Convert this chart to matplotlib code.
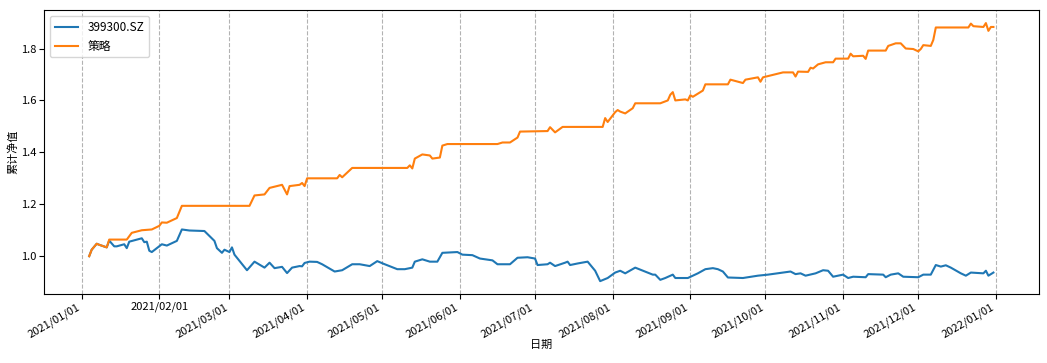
import pandas as pd
import matplotlib
matplotlib.use('Agg')
import matplotlib.pyplot as plt
import matplotlib.dates as mdates

plt.rcParams['font.family'] = ['Noto Sans CJK SC', 'DejaVu Sans']
plt.rcParams['axes.unicode_minus'] = False

# benchmark 399300.SZ
bench_dates = [
    '2021-01-04', '2021-01-05', '2021-01-07', '2021-01-08', '2021-01-11', '2021-01-12',
    '2021-01-14', '2021-01-15', '2021-01-18', '2021-01-19', '2021-01-20', '2021-01-25',
    '2021-01-26', '2021-01-27', '2021-01-28', '2021-01-29', '2021-02-02', '2021-02-04',
    '2021-02-08', '2021-02-10', '2021-02-13', '2021-02-19', '2021-02-23', '2021-02-24',
    '2021-02-26', '2021-02-27', '2021-03-01', '2021-03-02', '2021-03-03', '2021-03-08',
    '2021-03-11', '2021-03-15', '2021-03-17', '2021-03-19', '2021-03-22', '2021-03-24',
    '2021-03-26', '2021-03-29', '2021-03-30', '2021-03-31', '2021-04-02', '2021-04-05',
    '2021-04-07', '2021-04-12', '2021-04-15', '2021-04-19', '2021-04-22', '2021-04-26',
    '2021-04-29', '2021-05-02', '2021-05-07', '2021-05-10', '2021-05-13', '2021-05-14',
    '2021-05-17', '2021-05-20', '2021-05-23', '2021-05-25', '2021-05-31', '2021-06-02',
    '2021-06-06', '2021-06-09', '2021-06-14', '2021-06-16', '2021-06-21', '2021-06-24',
    '2021-06-28', '2021-07-01', '2021-07-02', '2021-07-06', '2021-07-07', '2021-07-09',
    '2021-07-13', '2021-07-14', '2021-07-15', '2021-07-18', '2021-07-22', '2021-07-25',
    '2021-07-27', '2021-07-30', '2021-08-02', '2021-08-04', '2021-08-06', '2021-08-10',
    '2021-08-15', '2021-08-17', '2021-08-18', '2021-08-20', '2021-08-22', '2021-08-25',
    '2021-08-26', '2021-08-31', '2021-09-02', '2021-09-04', '2021-09-07', '2021-09-10',
    '2021-09-12', '2021-09-14', '2021-09-16', '2021-09-22', '2021-09-28', '2021-10-02',
    '2021-10-11', '2021-10-13', '2021-10-15', '2021-10-17', '2021-10-21', '2021-10-24',
    '2021-10-26', '2021-10-28', '2021-11-01', '2021-11-03', '2021-11-05', '2021-11-10',
    '2021-11-11', '2021-11-17', '2021-11-18', '2021-11-20', '2021-11-23', '2021-11-25',
    '2021-12-01', '2021-12-03', '2021-12-06', '2021-12-08', '2021-12-10', '2021-12-12',
    '2021-12-14', '2021-12-18', '2021-12-20', '2021-12-22', '2021-12-27', '2021-12-28',
    '2021-12-29', '2021-12-31',
]
bench_vals = [
    1.000, 1.025, 1.048, 1.044, 1.034, 1.060,
    1.038, 1.038, 1.046, 1.031, 1.056, 1.069,
    1.054, 1.056, 1.021, 1.016, 1.046, 1.041,
    1.059, 1.103, 1.099, 1.097, 1.059, 1.031,
    1.013, 1.025, 1.016, 1.034, 1.006, 0.946,
    0.979, 0.956, 0.975, 0.954, 0.959, 0.935,
    0.956, 0.962, 0.961, 0.974, 0.979, 0.978,
    0.969, 0.941, 0.946, 0.969, 0.969, 0.962,
    0.981, 0.969, 0.950, 0.950, 0.956, 0.979,
    0.988, 0.979, 0.979, 1.013, 1.016, 1.006,
    1.004, 0.991, 0.984, 0.969, 0.969, 0.994,
    0.996, 0.991, 0.966, 0.969, 0.975, 0.962,
    0.975, 0.979, 0.966, 0.972, 0.979, 0.944,
    0.904, 0.916, 0.937, 0.944, 0.934, 0.956,
    0.937, 0.929, 0.929, 0.909, 0.916, 0.929,
    0.916, 0.916, 0.925, 0.934, 0.950, 0.954,
    0.950, 0.941, 0.918, 0.916, 0.925, 0.929,
    0.941, 0.931, 0.934, 0.925, 0.934, 0.946,
    0.944, 0.921, 0.929, 0.916, 0.921, 0.919,
    0.931, 0.929, 0.919, 0.929, 0.934, 0.921,
    0.919, 0.929, 0.929, 0.966, 0.960, 0.965,
    0.956, 0.934, 0.925, 0.937, 0.934, 0.944,
    0.925, 0.937,
]

# strategy
strat_dates = [
    '2021-01-04', '2021-01-05', '2021-01-07', '2021-01-08', '2021-01-11', '2021-01-12',
    '2021-01-19', '2021-01-21', '2021-01-25', '2021-01-29', '2021-02-01', '2021-02-02',
    '2021-02-04', '2021-02-08', '2021-02-10', '2021-03-09', '2021-03-11', '2021-03-15',
    '2021-03-17', '2021-03-22', '2021-03-24', '2021-03-25', '2021-03-29', '2021-03-30',
    '2021-03-31', '2021-04-01', '2021-04-13', '2021-04-14', '2021-04-15', '2021-04-19',
    '2021-05-11', '2021-05-12', '2021-05-13', '2021-05-14', '2021-05-17', '2021-05-20',
    '2021-05-21', '2021-05-24', '2021-05-25', '2021-05-27', '2021-06-16', '2021-06-18',
    '2021-06-21', '2021-06-24', '2021-06-25', '2021-07-06', '2021-07-07', '2021-07-09',
    '2021-07-12', '2021-07-28', '2021-07-29', '2021-07-30', '2021-08-02', '2021-08-03',
    '2021-08-04', '2021-08-06', '2021-08-09', '2021-08-10', '2021-08-20', '2021-08-23',
    '2021-08-24', '2021-08-25', '2021-08-26', '2021-08-30', '2021-08-31', '2021-09-01',
    '2021-09-02', '2021-09-06', '2021-09-07', '2021-09-16', '2021-09-17', '2021-09-22',
    '2021-09-23', '2021-09-28', '2021-09-29', '2021-09-30', '2021-10-08', '2021-10-12',
    '2021-10-13', '2021-10-14', '2021-10-18', '2021-10-19', '2021-10-20', '2021-10-22',
    '2021-10-25', '2021-10-28', '2021-10-29', '2021-11-03', '2021-11-04', '2021-11-05',
    '2021-11-09', '2021-11-10', '2021-11-11', '2021-11-18', '2021-11-19', '2021-11-22',
    '2021-11-24', '2021-11-26', '2021-11-29', '2021-12-01', '2021-12-02', '2021-12-03',
    '2021-12-06', '2021-12-07', '2021-12-08', '2021-12-21', '2021-12-22', '2021-12-23',
    '2021-12-27', '2021-12-28', '2021-12-29', '2021-12-30', '2021-12-31',
]
strat_vals = [
    1.000, 1.025, 1.048, 1.044, 1.034, 1.064,
    1.064, 1.090, 1.100, 1.103, 1.117, 1.130,
    1.129, 1.147, 1.194, 1.194, 1.234, 1.238,
    1.263, 1.275, 1.238, 1.270, 1.275, 1.282,
    1.270, 1.300, 1.300, 1.313, 1.304, 1.340,
    1.340, 1.350, 1.338, 1.376, 1.392, 1.388,
    1.376, 1.380, 1.426, 1.432, 1.432, 1.438,
    1.438, 1.457, 1.480, 1.482, 1.497, 1.477,
    1.498, 1.498, 1.532, 1.517, 1.555, 1.563,
    1.557, 1.550, 1.570, 1.589, 1.589, 1.600,
    1.622, 1.632, 1.600, 1.604, 1.600, 1.620,
    1.614, 1.638, 1.662, 1.662, 1.680, 1.667,
    1.680, 1.689, 1.672, 1.689, 1.708, 1.708,
    1.692, 1.711, 1.710, 1.726, 1.723, 1.739,
    1.747, 1.747, 1.761, 1.761, 1.780, 1.770,
    1.772, 1.760, 1.792, 1.792, 1.810, 1.820,
    1.820, 1.800, 1.798, 1.789, 1.798, 1.813,
    1.810, 1.833, 1.881, 1.881, 1.896, 1.886,
    1.883, 1.898, 1.868, 1.883, 1.883,
]


def main():
    fig, ax = plt.subplots(figsize=(10.47, 3.63), dpi=100)
    fig.subplots_adjust(left=0.042, right=0.992, top=0.972, bottom=0.19)

    ax.plot(pd.to_datetime(bench_dates), bench_vals, label='399300.SZ', color='#1f77b4', lw=1.5)
    ax.plot(pd.to_datetime(strat_dates), strat_vals, label='策略', color='#ff7f0e', lw=1.5)

    ax.xaxis.set_major_locator(mdates.MonthLocator())
    ax.xaxis.set_major_formatter(mdates.DateFormatter('%Y/%m/%d'))
    ax.grid(axis='x', linestyle='--', color='gray', alpha=0.6)
    ax.tick_params(labelsize=8, pad=2)

    fig.canvas.draw()
    for i, lab in enumerate(ax.get_xticklabels()):
        if i == 1:
            lab.set_rotation(0)
            lab.set_ha('center')
        else:
            lab.set_rotation(30)
            lab.set_ha('right')

    ax.set_xlabel('日期', fontsize=8, labelpad=0)
    ax.set_ylabel('累计净值', fontsize=8, labelpad=2)
    ax.legend(loc='upper left', fontsize=8.5)

    fig.savefig('out.png')


if __name__ == '__main__':
    main()
